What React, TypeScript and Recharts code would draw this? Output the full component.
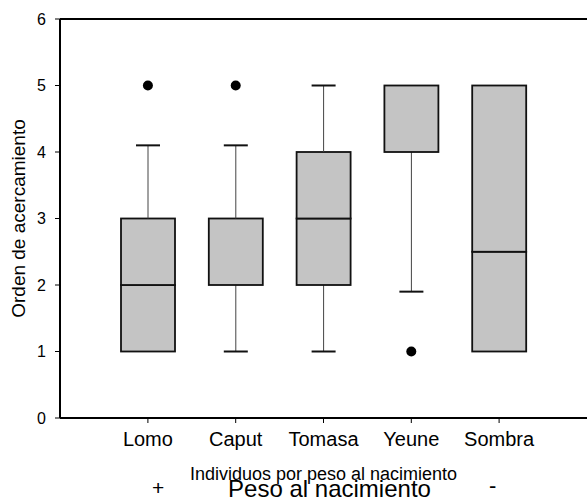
import { ComposedChart, Bar, Scatter, XAxis, YAxis, ReferenceLine } from "recharts";

const categories = ["Lomo", "Caput", "Tomasa", "Yeune", "Sombra"];
const mins = [1, 1, 1, 1.9, 1];
const q1s = [1, 2, 2, 4, 1];
const medians = [2, 2, 3, 5, 2.5];
const q3s = [3, 3, 4, 5, 5];
const maxs = [4.1, 4.1, 5, 5, 5];
const outliers: (number | null)[] = [5, 5, null, 1, null];
const yTicks = [0, 1, 2, 3, 4, 5, 6];

const data = categories.map((name, i) => ({
  name,
  base: mins[i],
  lowWhisker: q1s[i] - mins[i],
  boxLow: medians[i] - q1s[i],
  boxHigh: q3s[i] - medians[i],
  highWhisker: maxs[i] - q3s[i],
  outlier: outliers[i],
}));

const FONT = "'Liberation Sans', Arial, sans-serif";

function Whisker(props: any, capAtTop: boolean) {
  const { x, y, width, height } = props;
  if (!height || height <= 0) return <g />;
  const cx = x + width / 2;
  const capY = capAtTop ? y : y + height;
  return (
    <g>
      <line x1={cx} x2={cx} y1={y} y2={y + height} stroke="#444" strokeWidth={1} />
      <line x1={cx - 12} x2={cx + 12} y1={capY} y2={capY} stroke="#111" strokeWidth={2} />
    </g>
  );
}

function BoxPart(props: any) {
  const { x, y, width, height } = props;
  if (height == null || height <= 0) return <g />;
  return <rect x={x} y={y} width={width} height={height} fill="#c4c4c4" stroke="#111" strokeWidth={1.8} />;
}

const textBox = { position: "absolute" as const, lineHeight: 1, whiteSpace: "nowrap" as const };

export default function App() {
  return (
    <div style={{ position: "absolute", left: 0, top: 0, width: 587, height: 498, background: "#fff", fontFamily: FONT, overflow: "hidden" }}>
      <ComposedChart width={587} height={498} data={data} margin={{ top: 19, right: 0, left: 0, bottom: 50 }}>
        <XAxis
          dataKey="name"
          padding={{ left: 44, right: 44 }}
          tick={{ fontSize: 20, fill: "#000", fontFamily: FONT }}
          tickLine={{ stroke: "#000" }}
          tickSize={5}
          tickMargin={9}
          axisLine={{ stroke: "#000", strokeWidth: 2 }}
        />
        <YAxis
          domain={[0, 6]}
          ticks={yTicks}
          width={60}
          tick={{ fontSize: 16, fill: "#000", fontFamily: FONT }}
          tickLine={{ stroke: "#000" }}
          tickSize={5}
          tickMargin={9}
          axisLine={{ stroke: "#000", strokeWidth: 2 }}
          label={{
            value: "Orden de acercamiento",
            angle: -90,
            position: "insideLeft",
            offset: 18,
            style: { fontSize: 19, fill: "#000", fontFamily: FONT, textAnchor: "middle" },
          }}
        />
        <ReferenceLine y={6} stroke="#000" strokeWidth={2} />
        <Bar dataKey="base" stackId="b" barSize={54} fill="none" isAnimationActive={false} />
        <Bar dataKey="lowWhisker" stackId="b" barSize={54} isAnimationActive={false} shape={(p: any) => Whisker(p, false)} />
        <Bar dataKey="boxLow" stackId="b" barSize={54} isAnimationActive={false} shape={BoxPart} />
        <Bar dataKey="boxHigh" stackId="b" barSize={54} isAnimationActive={false} shape={BoxPart} />
        <Bar dataKey="highWhisker" stackId="b" barSize={54} isAnimationActive={false} shape={(p: any) => Whisker(p, true)} />
        <Scatter
          dataKey="outlier"
          fill="#000"
          isAnimationActive={false}
          shape={(p: any) => (p.cy == null || isNaN(p.cy) ? <g /> : <circle cx={p.cx} cy={p.cy} r={5} fill="#000" />)}
        />
      </ComposedChart>
      <div style={{ ...textBox, left: 60, width: 527, top: 465, textAlign: "center", fontSize: 18 }}>
        Individuos por peso al nacimiento
      </div>
      <div style={{ ...textBox, left: 152, top: 477, fontSize: 21 }}>+</div>
      <div style={{ ...textBox, left: 66, width: 527, top: 477, textAlign: "center", fontSize: 24 }}>
        Peso al nacimiento
      </div>
      <div style={{ ...textBox, left: 489, top: 475, fontSize: 22 }}>-</div>
    </div>
  );
}
